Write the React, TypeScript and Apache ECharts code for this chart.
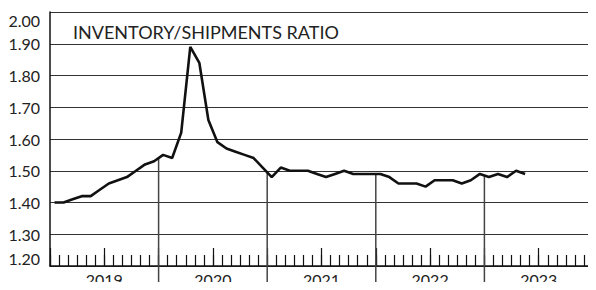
import React, { useEffect, useRef } from "react";
import * as echarts from "echarts";

const years = ["2019", "2020", "2021", "2022", "2023"];
const yTicks = [1.2, 1.3, 1.4, 1.5, 1.6, 1.7, 1.8, 1.9, 2.0];
const ratio2019 = [1.40, 1.40, 1.41, 1.42, 1.42, 1.44, 1.46, 1.47, 1.48, 1.50, 1.52, 1.53];
const ratio2020 = [1.55, 1.54, 1.62, 1.89, 1.84, 1.66, 1.59, 1.57, 1.56, 1.55, 1.54, 1.51];
const ratio2021 = [1.48, 1.51, 1.50, 1.50, 1.50, 1.49, 1.48, 1.49, 1.50, 1.49, 1.49, 1.49];
const ratio2022 = [1.49, 1.48, 1.46, 1.46, 1.46, 1.45, 1.47, 1.47, 1.47, 1.46, 1.47, 1.49];
const ratio2023 = [1.48, 1.49, 1.48, 1.50, 1.49];
const title = "INVENTORY/SHIPMENTS RATIO";
const unitLabel = "RATIO";

const FONT = "Lato";

export default function App() {
  const ref = useRef<HTMLDivElement>(null);
  useEffect(() => {
    if (!ref.current) return;
    const chart = echarts.init(ref.current, null, { renderer: "svg" });
    const all = [...ratio2019, ...ratio2020, ...ratio2021, ...ratio2022, ...ratio2023];
    const lineData = all.map((v, i) => [i + 0.5, v]);
    const boundaries = [12, 24, 36, 48].map((b) => [b, (all[b - 1] + all[b]) / 2]);
    chart.setOption({
      animation: false,
      grid: { left: 50, top: 12, width: 547, height: 254 },
      graphic: [
        {
          type: "text",
          left: 73,
          top: 23,
          style: { text: title, font: `18px ${FONT}`, fill: "#222" },
        },
        {
          type: "text",
          left: 6,
          top: -9,
          style: { text: unitLabel, font: `14px ${FONT}`, fill: "#222" },
        },
      ],
      xAxis: [
        {
          type: "value",
          min: 0,
          max: 60,
          interval: 6,
          axisLine: { show: true, lineStyle: { color: "#111", width: 1.5 } },
          axisTick: { show: true, inside: true, length: 18, lineStyle: { color: "#111", width: 1.2 } },
          axisLabel: {
            show: true,
            margin: 5,
            color: "#222",
            fontFamily: FONT,
            fontSize: 16,
            formatter: (v: number) => (v % 12 === 6 ? years[Math.floor(v / 12)] : ""),
          },
          splitLine: { show: false },
        },
        {
          type: "value",
          min: 0,
          max: 60,
          interval: 1,
          position: "bottom",
          axisLine: { show: false },
          axisTick: { show: true, inside: true, length: 11, lineStyle: { color: "#111", width: 1.2 } },
          axisLabel: { show: false },
          splitLine: { show: false },
        },
      ],
      yAxis: {
        type: "value",
        min: 1.2,
        max: 2.0,
        interval: 0.1,
        axisLine: { show: true, lineStyle: { color: "#111", width: 1.5 } },
        axisTick: { show: false },
        axisLabel: {
          color: "#222",
          fontFamily: FONT,
          fontSize: 16,
          margin: 10,
          verticalAlignMaxLabel: "top",
          verticalAlignMinLabel: "bottom",
          formatter: (v: number) => (yTicks.some((t) => Math.abs(t - v) < 1e-6) ? v.toFixed(2) : ""),
        },
        splitLine: { show: true, lineStyle: { color: "#333", width: 1.2 } },
      },
      series: [
        {
          type: "custom",
          clip: false,
          silent: true,
          data: boundaries,
          renderItem: (params: any, api: any) => {
            const p = api.coord([api.value(0), api.value(1)]);
            return {
              type: "line",
              shape: { x1: p[0], y1: p[1], x2: p[0], y2: 292 },
              style: { stroke: "#444", lineWidth: 1.5 },
            };
          },
          z: 1,
        },
        {
          type: "line",
          data: lineData,
          showSymbol: false,
          symbol: "none",
          lineStyle: { color: "#111", width: 2.6 },
          z: 3,
        },
      ],
    });
    return () => chart.dispose();
  }, []);
  return <div ref={ref} style={{ width: 596, height: 290, margin: -8 }} />;
}
